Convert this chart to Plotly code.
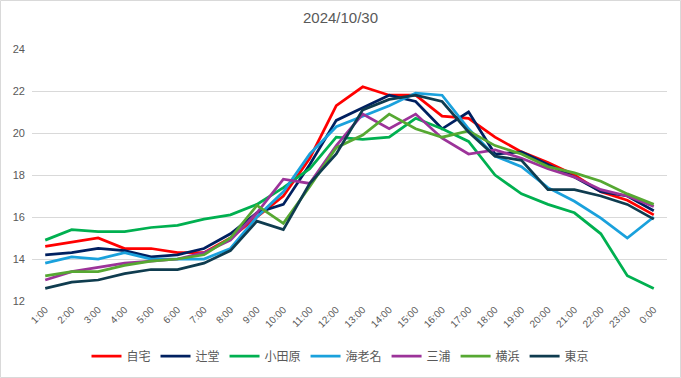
import plotly.graph_objects as go

hours = ["1:00", "2:00", "3:00", "4:00", "5:00", "6:00", "7:00", "8:00", "9:00", "10:00",
         "11:00", "12:00", "13:00", "14:00", "15:00", "16:00", "17:00", "18:00", "19:00",
         "20:00", "21:00", "22:00", "23:00", "0:00"]

jitaku = [14.6, 14.8, 15.0, 14.5, 14.5, 14.3, 14.3, 15.0, 16.0, 17.0, 18.8, 21.3, 22.2, 21.8,
          21.8, 20.8, 20.7, 19.8, 19.1, 18.6, 18.0, 17.2, 16.8, 16.1]
tsujido = [14.2, 14.3, 14.5, 14.4, 14.1, 14.2, 14.5, 15.2, 16.2, 16.6, 18.5, 20.6, 21.2, 21.8,
           21.5, 20.2, 21.0, 19.0, 19.1, 18.5, 17.9, 17.2, 17.0, 16.3]
odawara = [14.9, 15.4, 15.3, 15.3, 15.5, 15.6, 15.9, 16.1, 16.6, 17.4, 18.3, 19.8, 19.7, 19.8,
           20.7, 20.2, 19.6, 18.0, 17.1, 16.6, 16.2, 15.2, 13.2, 12.6]
ebina = [13.8, 14.1, 14.0, 14.3, 14.0, 14.0, 14.0, 14.5, 16.0, 17.2, 19.0, 20.3, 20.8, 21.3,
         21.9, 21.8, 20.2, 18.9, 18.4, 17.4, 16.75, 15.95, 15.0, 16.0]
miura = [13.0, 13.4, 13.6, 13.8, 13.9, 14.0, 14.3, 14.9, 16.2, 17.8, 17.6, 19.4, 20.9, 20.2,
         20.9, 19.75, 19.0, 19.2, 18.8, 18.3, 17.9, 17.3, 17.0, 16.5]
yokohama = [13.2, 13.4, 13.4, 13.7, 13.9, 14.0, 14.2, 15.0, 16.55, 15.7, 17.45, 19.3, 19.9,
            20.9, 20.2, 19.8, 20.1, 19.4, 19.0, 18.4, 18.1, 17.7, 17.1, 16.6]
tokyo = [12.6, 12.9, 13.0, 13.3, 13.5, 13.5, 13.8, 14.4, 15.8, 15.4, 17.6, 19.0, 21.1, 21.6,
         21.8, 21.5, 20.05, 18.9, 18.7, 17.3, 17.3, 17.0, 16.6, 15.9]

series_names = ["自宅", "辻堂", "小田原", "海老名", "三浦", "横浜", "東京"]
series_values = [jitaku, tsujido, odawara, ebina, miura, yokohama, tokyo]
series_colors = ["#FF0000", "#002060", "#00B050", "#1AA1DC", "#9C3399", "#56A832", "#0F3C4F"]

font_family = "Liberation Sans, Arial, Noto Sans CJK JP, sans-serif"
text_color = "#595959"

fig = go.Figure()
for name, vals, col in zip(series_names, series_values, series_colors):
    fig.add_trace(go.Scatter(x=hours, y=vals, name=name, mode="lines",
                             line=dict(color=col, width=2.75)))

W, H = 681, 378
ml, mr, mt, mb = 32, 14, 49, 77
pw, ph = W - ml - mr, H - mt - mb

fig.update_layout(
    width=W, height=H,
    margin=dict(l=ml, r=mr, t=mt, b=mb, autoexpand=False),
    paper_bgcolor="white", plot_bgcolor="white",
    font=dict(family=font_family, color=text_color, size=11),
    title=dict(text="2024/10/30", x=0.5, xanchor="center", y=1 - 18 / H, yanchor="middle",
               font=dict(size=15, color=text_color, family=font_family)),
    showlegend=True,
    legend=dict(orientation="h", x=0.5, xanchor="center", xref="container",
                y=1 - 356 / H, yref="container", yanchor="middle",
                font=dict(size=12, color=text_color),
                itemwidth=30, tracegroupgap=0),
    xaxis=dict(type="category", tickangle=-45, showgrid=False, zeroline=False,
               showline=False, ticks="", tickfont=dict(size=10, color=text_color),
               range=[-0.5, len(hours) - 0.5], automargin=False),
    yaxis=dict(range=[12, 24], dtick=2, showgrid=True, gridcolor="#D9D9D9", gridwidth=1,
               zeroline=False, showline=False, ticks="", automargin=False,
               ticklabelstandoff=6,
               tickfont=dict(size=11, color=text_color)),
    shapes=[dict(type="rect", xref="paper", yref="paper",
                 x0=-(ml - 0.5) / pw, x1=1 + (mr - 0.5) / pw,
                 y0=-(mb - 0.5) / ph, y1=1 + (mt - 0.5) / ph,
                 line=dict(color="#D9D9D9", width=1), layer="below")],
)

fig.write_html("out.html", config={"displayModeBar": False},
               post_script="document.body.style.margin='0';document.body.style.padding='0';")
